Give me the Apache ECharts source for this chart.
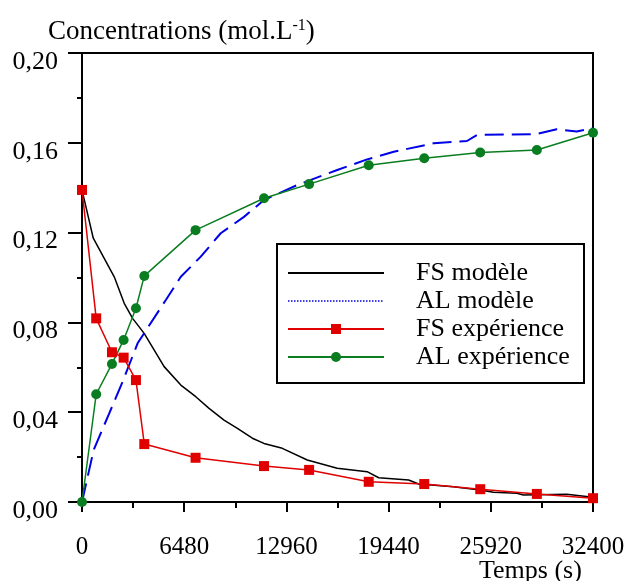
<!DOCTYPE html>
<html>
<head>
<meta charset="utf-8">
<script src="https://cdn.jsdelivr.net/npm/echarts@6/dist/echarts.min.js"></script>
<style>
  html, body { margin: 0; padding: 0; background: #fff; }
  #chart { width: 629px; height: 581px; }
</style>
</head>
<body>
<div id="chart"></div>
<script>
// noms des courbes
const names = ["FS modèle", "AL modèle", "FS expérience", "AL expérience"];

// modèle
const fsModelT = [0, 715, 2044, 2677, 3208, 3942, 5208, 6265, 7214, 8055, 9005, 9853, 10802, 11537, 12701, 14283, 16181, 18079, 18813, 20711, 21344, 23559, 25249, 26090, 27571, 27989, 30735, 32400];
const fsModelC = [0.139, 0.1175, 0.1003, 0.0885, 0.0818, 0.0751, 0.0603, 0.0521, 0.0469, 0.0417, 0.0365, 0.0328, 0.0284, 0.0261, 0.0239, 0.0187, 0.015, 0.0135, 0.0108, 0.0098, 0.008, 0.0068, 0.0053, 0.0043, 0.0039, 0.0031, 0.0034, 0.0021];

const alModelT = [0, 740, 1727, 2576, 3525, 5316, 6265, 7530, 8796, 10270, 11537, 13650, 16181, 18079, 19766, 22297, 24406, 25039, 28836, 30102, 31367, 32400];
const alModelC = [0, 0.0232, 0.0395, 0.0536, 0.0707, 0.09, 0.1003, 0.1093, 0.1197, 0.127, 0.1345, 0.1412, 0.1479, 0.1526, 0.156, 0.1598, 0.1608, 0.1635, 0.1639, 0.166, 0.165, 0.1665];

// expérience
const expT = [0, 900, 1900, 2640, 3420, 3950, 7200, 11540, 14400, 18180, 21700, 25250, 28840, 32400];
const fsExpC = [0.139, 0.0818, 0.0667, 0.0643, 0.0543, 0.0258, 0.0197, 0.016, 0.0143, 0.009, 0.008, 0.0057, 0.0036, 0.0017];
const alExpC = [0, 0.048, 0.0615, 0.0722, 0.0863, 0.1007, 0.1211, 0.1353, 0.1416, 0.150, 0.1531, 0.1557, 0.1568, 0.1645];

const font = "Liberation Serif";
const zip = (t, c) => t.map((v, i) => [v, c[i]]);

const option = {
  animation: false,
  backgroundColor: "#fff",
  textStyle: { fontFamily: font },
  title: [
    {
      text: "Concentrations (mol.L{sup|-1})",
      left: 48,
      top: 18,
      padding: 0,
      textStyle: {
        fontFamily: font,
        fontSize: 27,
        fontWeight: "normal",
        color: "#000",
        rich: {
          sup: { fontFamily: font, fontSize: 16, verticalAlign: "top", padding: [0, 0, 10, 0], color: "#000" },
        },
      },
    },
    {
      text: "Temps (s)",
      left: 479,
      top: 558,
      padding: 0,
      textStyle: { fontFamily: font, fontSize: 26, fontWeight: "normal", color: "#000" },
    },
  ],
  legend: {
    orient: "vertical",
    left: 277,
    top: 244,
    padding: [16, 11, 13, 10],
    itemWidth: 96,
    itemHeight: 12.5,
    itemGap: 2,
    borderColor: "#000",
    borderWidth: 2,
    backgroundColor: "#fff",
    selectedMode: false,
    textStyle: {
      fontFamily: font,
      fontSize: 26,
      lineHeight: 26,
      color: "#000",
      width: 157,
      padding: [0, 0, 0, 27],
    },
    data: [
      { name: names[0], itemStyle: { opacity: 0 } },
      { name: names[1], itemStyle: { opacity: 0 }, lineStyle: { type: [1.5, 1.5], width: 1.5 } },
      { name: names[2] },
      { name: names[3] },
    ],
  },
  grid: {
    left: 82,
    right: 36,
    top: 53,
    bottom: 79,
    show: true,
    borderColor: "#000",
    borderWidth: 2,
  },
  xAxis: {
    type: "value",
    min: 0,
    max: 32400,
    interval: 6480,
    axisLine: { lineStyle: { color: "#000", width: 2 } },
    axisTick: { length: 10, lineStyle: { color: "#000", width: 2 } },
    minorTick: { show: true, splitNumber: 2, length: 6, lineStyle: { color: "#000", width: 2 } },
    splitLine: { show: false },
    axisLabel: {
      margin: 33,
      fontFamily: font,
      fontSize: 25,
      color: "#000",
      formatter: (v) => String(v),
    },
  },
  yAxis: {
    type: "value",
    min: 0,
    max: 0.2,
    interval: 0.04,
    axisLine: { lineStyle: { color: "#000", width: 2 } },
    axisTick: { length: 14, lineStyle: { color: "#000", width: 2 } },
    minorTick: { show: true, splitNumber: 2, length: 5, lineStyle: { color: "#000", width: 2 } },
    splitLine: { show: false },
    axisLabel: {
      margin: 24,
      fontFamily: font,
      fontSize: 26,
      lineHeight: 18,
      verticalAlign: "top",
      color: "#000",
      formatter: (v) => v.toFixed(2).replace(".", ","),
    },
  },
  series: [
    {
      name: names[0],
      type: "line",
      data: zip(fsModelT, fsModelC),
      showSymbol: false,
      symbol: "none",
      lineStyle: { color: "#000", width: 1.5 },
      itemStyle: { color: "#000" },
    },
    {
      name: names[1],
      type: "line",
      data: zip(alModelT, alModelC),
      showSymbol: false,
      symbol: "none",
      lineStyle: { color: "#0000e6", width: 2, type: [19, 8] },
      itemStyle: { color: "#0000e6" },
    },
    {
      name: names[2],
      type: "line",
      data: zip(expT, fsExpC),
      symbol: "rect",
      symbolSize: 10,
      lineStyle: { color: "#e00000", width: 1.5 },
      itemStyle: { color: "#e00000" },
    },
    {
      name: names[3],
      type: "line",
      data: zip(expT, alExpC),
      symbol: "circle",
      symbolSize: 10,
      lineStyle: { color: "#0a7d20", width: 1.5 },
      itemStyle: { color: "#0a7d20" },
    },
  ],
};

const chart = echarts.init(document.getElementById("chart"));
chart.setOption(option);
</script>
</body>
</html>
